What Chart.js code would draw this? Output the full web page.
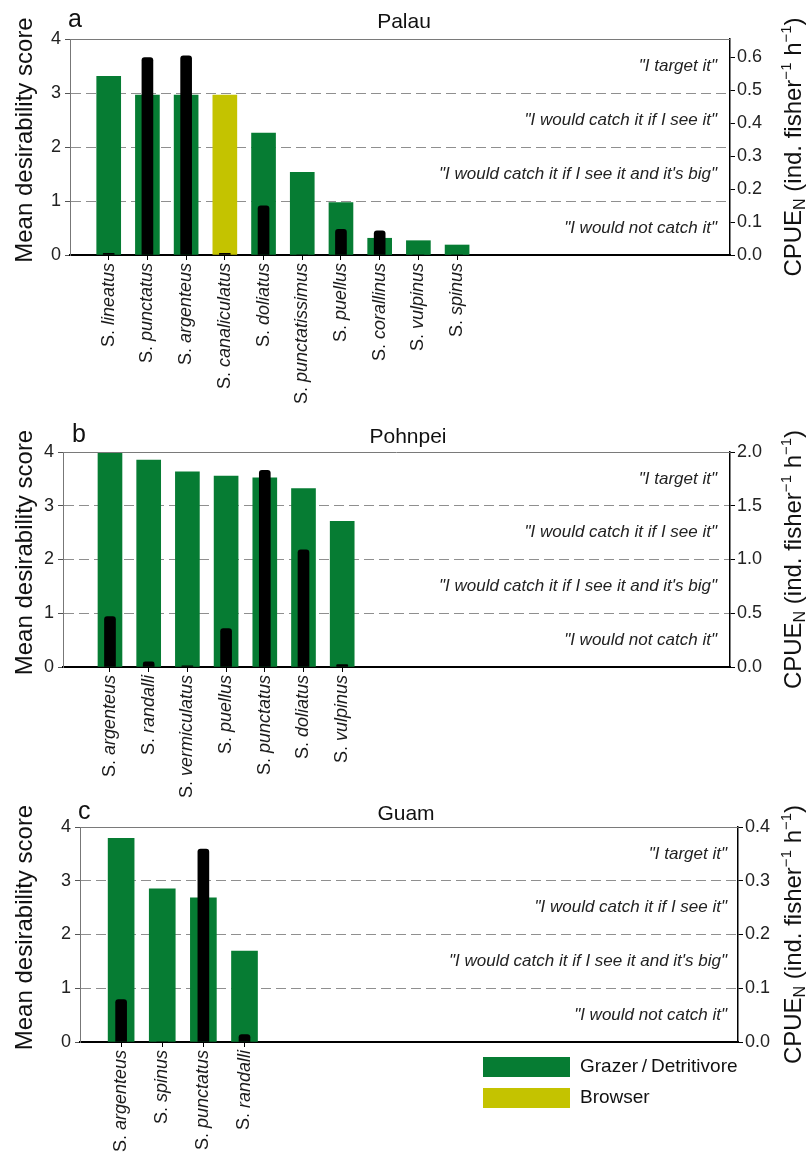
<!DOCTYPE html>
<html>
<head>
<meta charset="utf-8">
<script src="https://cdn.jsdelivr.net/npm/chart.js@4.4.1/dist/chart.umd.min.js"></script>
<style>
  html, body { margin: 0; padding: 0; background: #fff; }
  #wrap { position: relative; width: 806px; height: 1159px; }
  canvas { position: absolute; left: 0; top: 0; }
</style>
</head>
<body>
<div id="wrap">
  <canvas id="palau" width="806" height="1159"></canvas>
  <canvas id="pohnpei" width="806" height="1159"></canvas>
  <canvas id="guam" width="806" height="1159"></canvas>
</div>
<script>
// Siganus species: mean desirability score (left axis) and CPUE_N (right axis)

// Palau
const palauSpecies = ['lineatus', 'punctatus', 'argenteus', 'canaliculatus', 'doliatus',
                      'punctatissimus', 'puellus', 'corallinus', 'vulpinus', 'spinus'];
const palauScore = [3.31, 2.96, 2.96, 2.96, 2.26, 1.53, 0.97, 0.31, 0.265, 0.185];
const palauCpue = [0.005, 0.599, 0.604, 0.005, 0.149, 0, 0.078, 0.073, 0, 0];
const palauGuild = ['G', 'G', 'G', 'B', 'G', 'G', 'G', 'G', 'G', 'G'];
const palauCpueTicks = [0, 0.1, 0.2, 0.3, 0.4, 0.5, 0.6];

// Pohnpei
const pohnpeiSpecies = ['argenteus', 'randalli', 'vermiculatus', 'puellus', 'punctatus', 'doliatus', 'vulpinus'];
const pohnpeiScore = [4.0, 3.85, 3.63, 3.55, 3.52, 3.32, 2.71];
const pohnpeiCpue = [0.47, 0.047, 0.01, 0.357, 1.83, 1.09, 0.022];
const pohnpeiGuild = ['G', 'G', 'G', 'G', 'G', 'G', 'G'];
const pohnpeiCpueTicks = [0, 0.5, 1.0, 1.5, 2.0];

// Guam
const guamSpecies = ['argenteus', 'spinus', 'punctatus', 'randalli'];
const guamScore = [3.79, 2.85, 2.68, 1.69];
const guamCpue = [0.079, 0, 0.359, 0.0137];
const guamGuild = ['G', 'G', 'G', 'G'];
const guamCpueTicks = [0, 0.1, 0.2, 0.3, 0.4];

const scoreTicks = [0, 1, 2, 3, 4];
const bandLabels = ['"I would not catch it"', '"I would catch it if I see it and it\'s big"',
                    '"I would catch it if I see it"', '"I target it"'];
const legendLabels = ['Grazer\u2009/\u2009Detritivore', 'Browser'];
const legendGuilds = ['G', 'B'];
const guildColors = { G: '#067c33', B: '#c4c300' };

const W = 806, H = 1159;
const FONT = '"Liberation Sans", Arial, Helvetica, sans-serif';
Chart.defaults.font.family = FONT;

function drawVerticalParts(ctx, parts, cx, cy) {
  ctx.save();
  ctx.translate(cx, cy);
  ctx.rotate(-Math.PI / 2);
  ctx.textAlign = 'left';
  ctx.textBaseline = 'alphabetic';
  let total = 0;
  parts.forEach(p => { ctx.font = p.font; p.w = ctx.measureText(p.t).width; total += p.w; });
  let x = -total / 2;
  parts.forEach(p => { ctx.font = p.font; ctx.fillText(p.t, x, p.dy || 0); x += p.w; });
  ctx.restore();
}

function decorPlugin(cfg) {
  return {
    id: 'decor',
    afterDraw(chart) {
      const ctx = chart.ctx;
      const area = chart.chartArea;
      const xs = chart.scales.x, ys = chart.scales.y;
      ctx.save();
      ctx.fillStyle = '#1a1a1a';

      // frame top line
      ctx.strokeStyle = '#7a7a7a';
      ctx.lineWidth = 1;
      ctx.beginPath();
      ctx.moveTo(area.left, area.top + 0.5);
      ctx.lineTo(area.right, area.top + 0.5);
      ctx.stroke();

      // species labels, rotated, genus upright and epithet italic
      cfg.species.forEach((name, i) => {
        const px = xs.getPixelForValue(i + 1);
        ctx.save();
        ctx.translate(px, area.bottom + 8);
        ctx.rotate(-Math.PI / 2);
        ctx.textBaseline = 'middle';
        ctx.textAlign = 'left';
        ctx.font = '18px ' + FONT;
        const g = 'S. ';
        const w1 = ctx.measureText(g).width;
        ctx.font = 'italic 18px ' + FONT;
        const w2 = ctx.measureText(name).width;
        ctx.font = '18px ' + FONT;
        ctx.fillText(g, -(w1 + w2), 0);
        ctx.font = 'italic 18px ' + FONT;
        ctx.fillText(name, -w2, 0);
        ctx.restore();
      });

      // desirability bands
      ctx.font = 'italic 17px ' + FONT;
      ctx.textAlign = 'right';
      ctx.textBaseline = 'middle';
      ctx.fillStyle = '#222';
      bandLabels.forEach((t, k) => {
        ctx.fillText(t, area.right - cfg.bandInset, ys.getPixelForValue(k + 0.5));
      });

      // panel letter and title
      ctx.fillStyle = '#111';
      ctx.textBaseline = 'alphabetic';
      ctx.textAlign = 'left';
      ctx.font = '25px ' + FONT;
      ctx.fillText(cfg.letter, cfg.letterX, cfg.titleBase - 1);
      ctx.textAlign = 'center';
      ctx.font = '21px ' + FONT;
      ctx.fillText(cfg.title, cfg.titleX, cfg.titleBase);

      // axis titles
      const cy = (area.top + area.bottom) / 2;
      drawVerticalParts(ctx, [{ t: 'Mean desirability score', font: '24px ' + FONT }], 32, cy - 7);
      drawVerticalParts(ctx, [
        { t: 'CPUE', font: '24px ' + FONT },
        { t: 'N', font: '16px ' + FONT, dy: 4 },
        { t: ' (ind. fisher', font: '24px ' + FONT },
        { t: '\u22121', font: '15px ' + FONT, dy: -10 },
        { t: ' h', font: '24px ' + FONT },
        { t: '\u22121', font: '15px ' + FONT, dy: -10 },
        { t: ')', font: '24px ' + FONT }
      ], 801, cy);

      // legend
      if (cfg.legend) {
        legendLabels.forEach((t, k) => {
          const y0 = cfg.legend.y + k * cfg.legend.step;
          ctx.fillStyle = guildColors[legendGuilds[k]];
          ctx.fillRect(cfg.legend.x, y0, 87, 20);
          ctx.fillStyle = '#111';
          ctx.font = '19px ' + FONT;
          ctx.textAlign = 'left';
          ctx.textBaseline = 'middle';
          ctx.fillText(t, cfg.legend.x + 97, y0 + 10);
        });
      }
      ctx.restore();
    }
  };
}

function makePanel(id, cfg) {
  const pts = arr => cfg.species.map((s, i) => ({ x: i + 1, y: arr[i] }));
  const box = cfg.box;
  return new Chart(document.getElementById(id), {
    type: 'bar',
    data: {
      datasets: [
        {
          label: 'CPUE',
          yAxisID: 'y1',
          data: pts(cfg.cpue),
          backgroundColor: '#000',
          barThickness: 11,
          borderRadius: 3,
          grouped: false,
          order: 0
        },
        {
          label: 'Desirability',
          yAxisID: 'y',
          data: pts(cfg.score),
          backgroundColor: cfg.guild.map(g => guildColors[g]),
          barThickness: cfg.greenWidth,
          grouped: false,
          order: 1
        }
      ]
    },
    options: {
      responsive: false,
      animation: false,
      devicePixelRatio: 1,
      events: [],
      layout: { padding: { top: box.top, left: 0, right: 0, bottom: 0 } },
      plugins: { legend: { display: false }, tooltip: { enabled: false } },
      scales: {
        x: {
          type: 'linear',
          min: cfg.xMin,
          max: cfg.xMax,
          offset: false,
          grid: { offset: false, drawOnChartArea: false, drawTicks: true, tickLength: 5, tickColor: '#000', tickWidth: 1 },
          border: { color: '#000', width: 2 },
          ticks: { display: false },
          afterBuildTicks: s => { s.ticks = cfg.species.map((_, i) => ({ value: i + 1 })); },
          afterFit: s => { s.height = H - box.bottom; }
        },
        y: {
          position: 'left',
          min: 0,
          max: 4,
          afterBuildTicks: s => { s.ticks = scoreTicks.map(v => ({ value: v })); },
          ticks: { font: { size: 18 }, color: '#222', padding: 4 },
          grid: {
            color: c => (c.tick && c.tick.value > 0 && c.tick.value < 4) ? '#8f8f8f' : 'rgba(0,0,0,0)',
            tickColor: '#555',
            tickLength: 5,
            lineWidth: 1
          },
          border: { color: '#777', width: 1, dash: [10, 5] },
          afterFit: s => { s.width = box.left; }
        },
        y1: {
          position: 'right',
          min: 0,
          max: cfg.cpueMax,
          afterBuildTicks: s => { s.ticks = cfg.cpueTicks.map(v => ({ value: v })); },
          ticks: { font: { size: 18 }, color: '#222', padding: 2, callback: v => v.toFixed(1) },
          grid: { drawOnChartArea: false, tickColor: '#000', tickLength: 5 },
          border: { color: '#000', width: 1.5 },
          afterFit: s => { s.width = W - box.right; }
        }
      }
    },
    plugins: [decorPlugin(cfg)]
  });
}

makePanel('palau', {
  species: palauSpecies, score: palauScore, cpue: palauCpue, guild: palauGuild,
  cpueMax: 0.655, cpueTicks: palauCpueTicks,
  box: { left: 70, right: 730, top: 39, bottom: 255 },
  xMin: 0, xMax: 17.05, greenWidth: 24,
  letter: 'a', letterX: 68, title: 'Palau', titleX: 404, titleBase: 28,
  bandInset: 13
});

makePanel('pohnpei', {
  species: pohnpeiSpecies, score: pohnpeiScore, cpue: pohnpeiCpue, guild: pohnpeiGuild,
  cpueMax: 2.0, cpueTicks: pohnpeiCpueTicks,
  box: { left: 63, right: 730, top: 452, bottom: 667 },
  xMin: -0.214, xMax: 17.02, greenWidth: 24,
  letter: 'b', letterX: 72, title: 'Pohnpei', titleX: 408, titleBase: 443,
  bandInset: 13
});

makePanel('guam', {
  species: guamSpecies, score: guamScore, cpue: guamCpue, guild: guamGuild,
  cpueMax: 0.4, cpueTicks: guamCpueTicks,
  box: { left: 80, right: 738, top: 827, bottom: 1042 },
  xMin: 0, xMax: 16, greenWidth: 26,
  letter: 'c', letterX: 78, title: 'Guam', titleX: 406, titleBase: 820,
  bandInset: 11,
  legend: { x: 483, y: 1057, step: 31 }
});
</script>
</body>
</html>
